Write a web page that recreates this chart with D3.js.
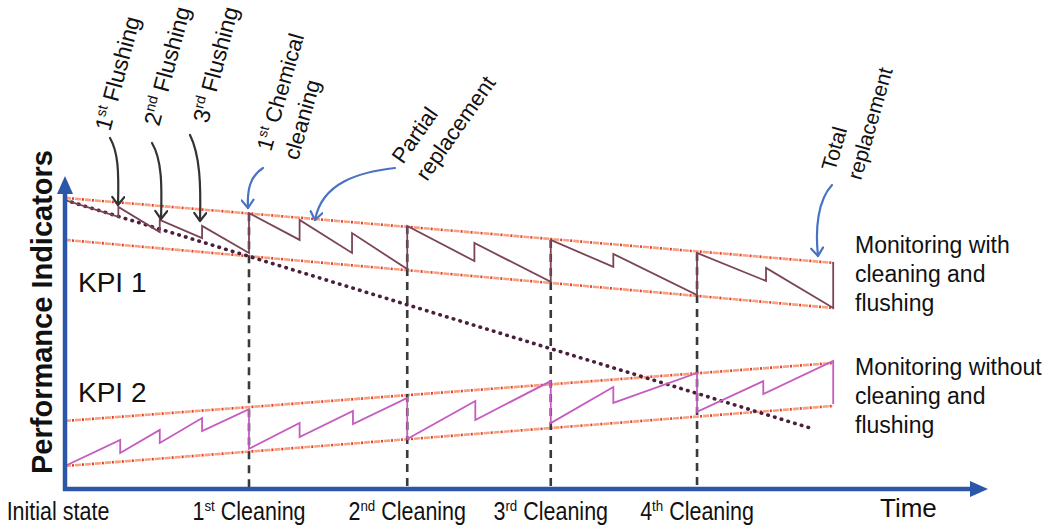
<!DOCTYPE html>
<html>
<head>
<meta charset="utf-8">
<script src="https://cdn.jsdelivr.net/npm/d3@7"></script>
<style>
  html, body { margin: 0; padding: 0; background: #fff; }
  svg { display: block; font-family: "Liberation Sans", Arial, Helvetica, sans-serif; }
</style>
</head>
<body>
<svg id="chart" width="1057" height="525"></svg>
<script>
// ---- data (time units 0..1000, performance units 0..100) ----
const milestoneLabels = [
  [{t: "Initial state"}],
  [{t: "1"}, {t: "st", sup: true}, {t: " Cleaning"}],
  [{t: "2"}, {t: "nd", sup: true}, {t: " Cleaning"}],
  [{t: "3"}, {t: "rd", sup: true}, {t: " Cleaning"}],
  [{t: "4"}, {t: "th", sup: true}, {t: " Cleaning"}]
];
const milestoneTimes = [0, 200, 372, 528, 687];
const cleaningTimes = [200, 372, 528, 687];

// KPI 1: monitoring with cleaning and flushing (sawtooth, declining)
const kpi1 = [[0,92.9],[58,87.5],[58,90.7],[103,82.6],[103,86.5],[149,80.7],[149,84.6],
  [200,75.9],[200,88.7],[255,80.1],[255,86.5],[312,75.9],[312,82.3],[372,70.7],[372,84.6],
  [445,73.3],[445,79.1],[528,66.6],[528,80.1],[596,71.4],[596,75.6],[687,62.4],[687,75.9],
  [762,66.9],[762,71.1],[835,58.2],[835,73.0]];
// KPI 1 without maintenance
const kpi1NoMaint = [[0,92.9],[810,19.6]];
const kpi1Upper = [[0,93.6],[835,72.7]];
const kpi1Lower = [[0,80.1],[835,58.2]];

// KPI 2 (sawtooth, rising)
const kpi2 = [[0,7.4],[60,15.8],[60,11.6],[103,19.0],[103,14.8],[149,22.8],[149,18.6],
  [200,25.7],[200,12.9],[255,21.2],[255,16.7],[313,25.1],[313,20.9],[372,29.3],[372,16.1],
  [446,28.3],[446,22.2],[528,34.7],[528,21.2],[596,32.8],[596,27.7],[687,37.3],[687,24.8],
  [759,34.7],[759,30.5],[835,41.2],[835,27.3]];
const kpi2Upper = [[0,21.9],[835,40.5]];
const kpi2Lower = [[0,7.4],[835,26.7]];

// cleaning tops (where the vertical dashed lines start)
const cleaningTops = [88.7, 84.6, 80.1, 75.9];

// ---- chart ----
const svg = d3.select("#chart");
const x = d3.scaleLinear().domain([0, 1000]).range([65, 985]);
const y = d3.scaleLinear().domain([0, 100]).range([489, 178]);
const line = d3.line().x(d => x(d[0])).y(d => y(d[1]));

const defs = svg.append("defs");
function marker(id, color) {
  defs.append("marker").attr("id", id)
    .attr("viewBox", "-10 -7 12 14").attr("refX", 0).attr("refY", 0)
    .attr("markerWidth", 12).attr("markerHeight", 14)
    .attr("markerUnits", "userSpaceOnUse").attr("orient", "auto")
    .append("path").attr("d", "M-8,-6 L0,0 L-8,6")
    .attr("fill", "none").attr("stroke", color).attr("stroke-width", 2.2)
    .attr("stroke-linecap", "round").attr("stroke-linejoin", "round");
}
marker("arrBlack", "#333");
marker("arrBlue", "#4a72c4");

// envelopes (red dashed)
function envelope(data) {
  svg.append("path").datum(data).attr("d", line)
    .attr("fill", "none").attr("stroke", "#f7a27e").attr("stroke-width", 2.6)
    .attr("stroke-dasharray", "6,4");
  svg.append("path").datum(data).attr("d", line)
    .attr("fill", "none").attr("stroke", "#e8382c").attr("stroke-width", 2.6)
    .attr("stroke-dasharray", "2,8").attr("stroke-dashoffset", -7);
}
[kpi1Upper, kpi1Lower, kpi2Upper, kpi2Lower].forEach(envelope);

// vertical dashed lines at cleanings
svg.selectAll(".clean").data(cleaningTimes).enter().append("line")
  .attr("x1", d => x(d)).attr("x2", d => x(d))
  .attr("y1", (d, i) => y(cleaningTops[i])).attr("y2", y(0))
  .attr("stroke", "#3a3a3a").attr("stroke-width", 2.6)
  .attr("stroke-dasharray", "8,6");

// no-maintenance dotted line
svg.append("path").datum(kpi1NoMaint).attr("d", line)
  .attr("fill", "none").attr("stroke", "#4b1f3b").attr("stroke-width", 3.6)
  .attr("stroke-linecap", "round").attr("stroke-dasharray", "0.5,6.5");

// sawtooth lines
svg.append("path").datum(kpi1).attr("d", line)
  .attr("fill", "none").attr("stroke", "#7b4457").attr("stroke-width", 1.8)
  .attr("stroke-linejoin", "miter");
svg.append("path").datum(kpi2).attr("d", line)
  .attr("fill", "none").attr("stroke", "#c55cbf").attr("stroke-width", 1.8);

// axes
const axisBlue = "#2c57a8";
svg.append("line").attr("x1", x(0)).attr("y1", y(0) + 2).attr("x2", x(0)).attr("y2", 192)
  .attr("stroke", axisBlue).attr("stroke-width", 4.5);
svg.append("path").attr("d", `M${x(0)-8},194 L${x(0)},176 L${x(0)+8},194 Z`).attr("fill", axisBlue);
svg.append("line").attr("x1", x(0) - 2).attr("y1", y(0)).attr("x2", 972).attr("y2", y(0))
  .attr("stroke", axisBlue).attr("stroke-width", 4.5);
svg.append("path").attr("d", `M970,${y(0)-8} L988,${y(0)} L970,${y(0)+8} Z`).attr("fill", axisBlue);

// text helper with superscripts
function richText(g, parts, size) {
  const t = g.append("text").attr("font-size", size);
  let shifted = false;
  parts.forEach(p => {
    const ts = t.append("tspan").text(p.t);
    if (p.sup) { ts.attr("font-size", size * 0.62).attr("dy", -size * 0.38); shifted = true; }
    else if (shifted) { ts.attr("dy", size * 0.38); shifted = false; }
  });
  return t;
}

// bottom milestone labels (condensed)
milestoneLabels.forEach((parts, i) => {
  const cx = x(milestoneTimes[i]) + (i === 0 ? -7 : 0);
  const g = svg.append("g").attr("transform", `translate(${cx},520) scale(0.86,1)`);
  richText(g, parts, 25).attr("text-anchor", "middle").attr("fill", "#111");
});

svg.append("text").attr("x", 880).attr("y", 517).attr("font-size", 26)
  .attr("fill", "#111").text("Time");

svg.append("text").attr("transform", "translate(52,312) rotate(-90)")
  .attr("text-anchor", "middle").attr("font-size", 29).attr("font-weight", "bold")
  .attr("fill", "#111").text("Performance Indicators");

svg.append("text").attr("x", 78).attr("y", 292).attr("font-size", 28).attr("fill", "#111").text("KPI 1");
svg.append("text").attr("x", 78).attr("y", 402).attr("font-size", 28).attr("fill", "#111").text("KPI 2");

// right-hand labels
const rightA = ["Monitoring with", "cleaning and", "flushing"];
const rightB = ["Monitoring without", "cleaning and", "flushing"];
rightA.forEach((s, i) => svg.append("text").attr("x", 855).attr("y", 253 + i * 29)
  .attr("font-size", 23).attr("fill", "#111").text(s));
rightB.forEach((s, i) => svg.append("text").attr("x", 855).attr("y", 375 + i * 29)
  .attr("font-size", 23).attr("fill", "#111").text(s));

// rotated annotations
function rotLabel(px, py, angle, parts, size) {
  const g = svg.append("g").attr("transform", `translate(${px},${py}) rotate(${angle})`);
  richText(g, parts, size).attr("fill", "#111");
}
rotLabel(110, 132, -75, [{t: "1"}, {t: "st", sup: true}, {t: " Flushing"}], 23);
rotLabel(159, 127, -75, [{t: "2"}, {t: "nd", sup: true}, {t: " Flushing"}], 23);
rotLabel(208, 124, -75, [{t: "3"}, {t: "rd", sup: true}, {t: " Flushing"}], 23);
rotLabel(271, 152, -74, [{t: "1"}, {t: "st", sup: true}, {t: " Chemical"}], 22);
rotLabel(298, 161, -74, [{t: "cleaning"}], 22);
rotLabel(403, 165, -55, [{t: "Partial"}], 22);
rotLabel(427, 182, -55, [{t: "replacement"}], 22);
rotLabel(835, 172, -74, [{t: "Total"}], 21);
rotLabel(861, 181, -74, [{t: "replacement"}], 21);

// arrows
const arrows = [
  {d: "M110,138 C118,152 119,170 118,205", c: "#333", m: "arrBlack"},
  {d: "M152,143 C162,160 162,185 161,219", c: "#333", m: "arrBlack"},
  {d: "M190,135 C200,155 201,185 200,221", c: "#333", m: "arrBlack"},
  {d: "M263,168 C250,176 247,190 248,208", c: "#4a72c4", m: "arrBlue"},
  {d: "M395,168 C360,172 322,182 315,220", c: "#4a72c4", m: "arrBlue"},
  {d: "M832,185 C818,200 815,228 818,256", c: "#4a72c4", m: "arrBlue"}
];
svg.selectAll(".arr").data(arrows).enter().append("path")
  .attr("d", d => d.d).attr("fill", "none").attr("stroke", d => d.c)
  .attr("stroke-width", 2.2).attr("stroke-linecap", "round")
  .attr("marker-end", d => `url(#${d.m})`);
</script>
</body>
</html>
